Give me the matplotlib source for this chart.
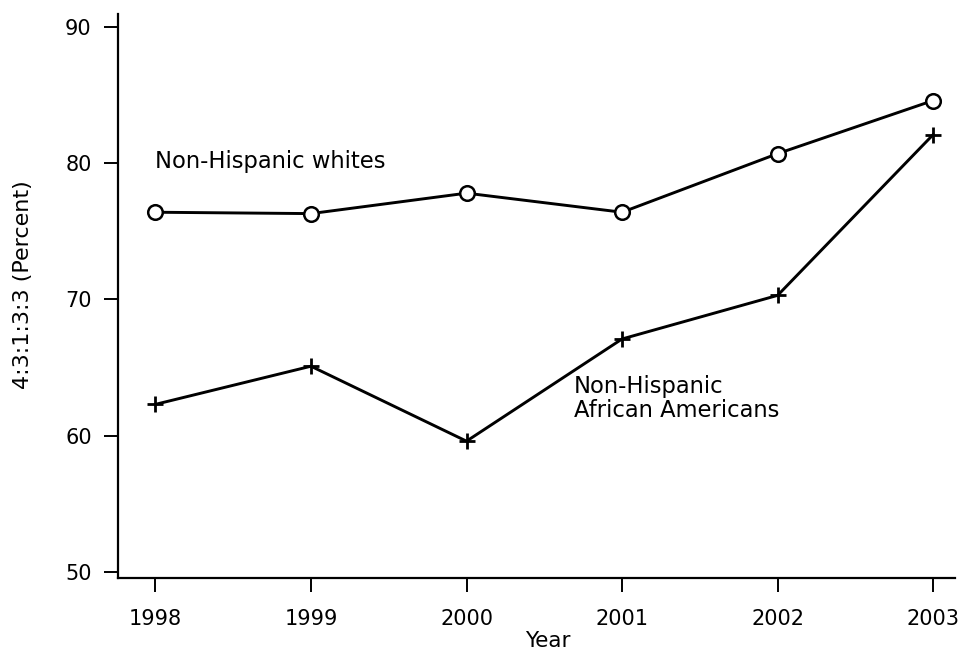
import matplotlib

matplotlib.use("Agg")
import matplotlib.pyplot as plt

years = [1998, 1999, 2000, 2001, 2002, 2003]
whites = [76.4, 76.3, 77.8, 76.4, 80.7, 84.6]
african_americans = [62.3, 65.1, 59.6, 67.1, 70.3, 82.1]
y_ticks = [50, 60, 70, 80, 90]

plt.rcParams["font.family"] = "DejaVu Sans"

fig = plt.figure(figsize=(9.66, 6.53), dpi=100)
ax = fig.add_axes([0.1222, 0.1149, 0.8664, 0.8637])

ax.plot(years, whites, color="black", lw=2.1, marker="o", ms=10.5,
        mfc="white", mec="black", mew=1.8)
ax.plot(years, african_americans, color="black", lw=2.1, marker="+",
        ms=11, mew=2.0)

ax.text(1998, 80.1, "Non-Hispanic whites", fontsize=16.3, va="center", ha="left")
ax.text(2000.69, 62.7, "Non-Hispanic\nAfrican Americans", fontsize=16.3,
        va="center", ha="left", linespacing=1.05)

ax.set_xlim(1997.76, 2003.14)
ax.set_ylim(49.56, 90.95)
ax.set_xticks(years)
ax.set_yticks(y_ticks)
ax.tick_params(labelsize=15, length=10, width=1.4, direction="out")
ax.tick_params(axis="x", pad=12)
ax.tick_params(axis="y", pad=9)

for side in ("top", "right"):
    ax.spines[side].set_visible(False)
for side in ("left", "bottom"):
    ax.spines[side].set_linewidth(1.6)

ax.set_xlabel("Year", fontsize=15.5)
ax.set_ylabel("4:3:1:3:3 (Percent)", fontsize=16)
ax.xaxis.set_label_coords(0.513, -0.094)
ax.yaxis.set_label_coords(-0.1016, 0.52)

fig.savefig("out.png", dpi=100)
